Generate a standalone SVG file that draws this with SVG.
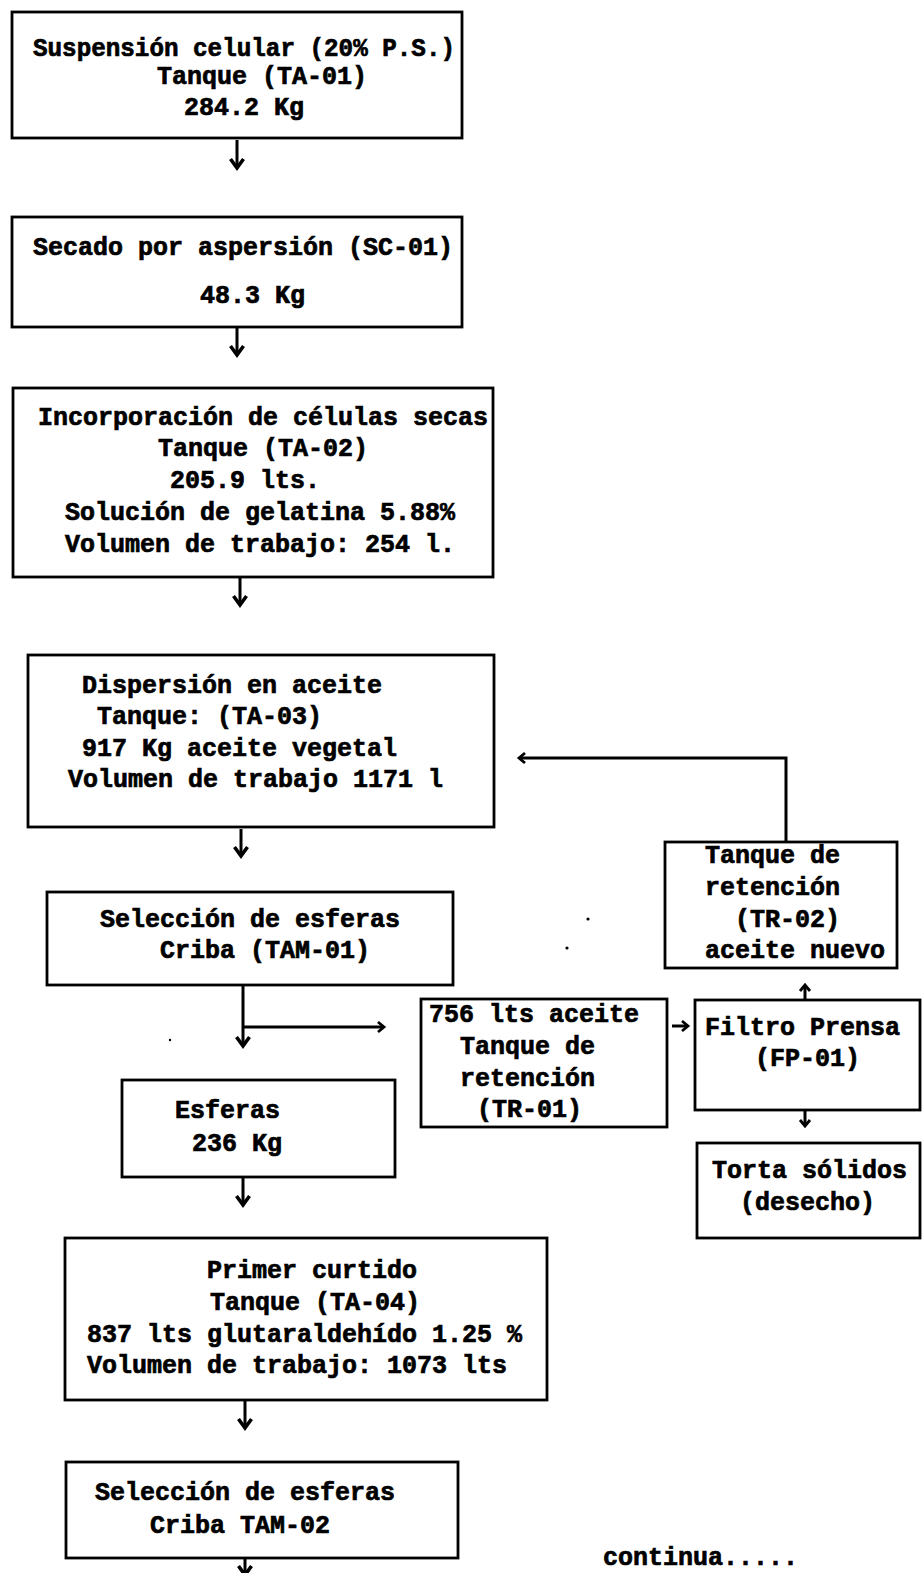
<svg xmlns="http://www.w3.org/2000/svg" width="923" height="1573" viewBox="0 0 923 1573">
  <style>
    .box { fill: #fff; stroke: #000; stroke-width: 2.8; }
    .lbl { font-family: "Liberation Mono", "DejaVu Sans Mono", monospace; font-weight: bold; font-size: 25px; fill: #000; stroke: #000; stroke-width: 0.7; white-space: pre; }
    .wire { fill: none; stroke: #000; stroke-width: 3; }
    .speck { fill: #000; }
  </style>
  <defs>
    <marker id="head" markerUnits="userSpaceOnUse" markerWidth="26" markerHeight="26" viewBox="-13 -13 26 26" refX="0" refY="0" orient="auto" overflow="visible">
      <path d="M-9,-6.5 L0,0 L-9,6.5" fill="none" stroke="#000" stroke-width="3.6" stroke-linejoin="miter"/>
    </marker>
    <marker id="headSmall" markerUnits="userSpaceOnUse" markerWidth="18" markerHeight="18" viewBox="-9 -9 18 18" refX="0" refY="0" orient="auto" overflow="visible">
      <path d="M-6,-5 L0,0 L-6,5" fill="none" stroke="#000" stroke-width="2.8"/>
    </marker>
  </defs>
  <rect width="923" height="1573" fill="#fff"/>

  <!-- process flow connectors -->
  <g id="connectors">
    <path class="wire" d="M237,140 V168" marker-end="url(#head)"/>
    <path class="wire" d="M237,328 V355" marker-end="url(#head)"/>
    <path class="wire" d="M240,578 V605" marker-end="url(#head)"/>
    <path class="wire" d="M241,829 V856" marker-end="url(#head)"/>
    <path class="wire" d="M243,986 V1046" marker-end="url(#head)"/>
    <path class="wire" d="M243,1027 H384" marker-end="url(#headSmall)"/>
    <path class="wire" d="M243,1178 V1205" marker-end="url(#head)"/>
    <path class="wire" d="M245,1401 V1428" marker-end="url(#head)"/>
    <path class="wire" d="M245,1559 V1575" marker-end="url(#head)"/>
    <path class="wire" d="M786,842 V758 H519" marker-end="url(#headSmall)"/>
    <path class="wire" d="M672,1026 H688" marker-end="url(#headSmall)"/>
    <path class="wire" d="M805,999 V985" marker-end="url(#headSmall)"/>
    <path class="wire" d="M805,1111 V1126" marker-end="url(#headSmall)"/>
  </g>

  <g id="suspension">
    <rect class="box" x="12" y="12" width="450" height="126"/>
    <text class="lbl" x="33" y="56" textLength="422" lengthAdjust="spacingAndGlyphs">Suspensión celular (20% P.S.)</text>
    <text class="lbl" x="157" y="84">Tanque (TA-01)</text>
    <text class="lbl" x="184" y="115">284.2 Kg</text>
  </g>

  <g id="secado">
    <rect class="box" x="12" y="217" width="450" height="110"/>
    <text class="lbl" x="33" y="255">Secado por aspersión (SC-01)</text>
    <text class="lbl" x="200" y="303">48.3 Kg</text>
  </g>

  <g id="incorporacion">
    <rect class="box" x="13" y="388" width="480" height="189"/>
    <text class="lbl" x="38" y="425">Incorporación de células secas</text>
    <text class="lbl" x="158" y="456">Tanque (TA-02)</text>
    <text class="lbl" x="170" y="488">205.9 lts.</text>
    <text class="lbl" x="65" y="520">Solución de gelatina 5.88%</text>
    <text class="lbl" x="65" y="552">Volumen de trabajo: 254 l.</text>
  </g>

  <g id="dispersion">
    <rect class="box" x="28" y="655" width="466" height="172"/>
    <text class="lbl" x="82" y="693">Dispersión en aceite</text>
    <text class="lbl" x="97" y="724">Tanque: (TA-03)</text>
    <text class="lbl" x="82" y="756">917 Kg aceite vegetal</text>
    <text class="lbl" x="68" y="787">Volumen de trabajo 1171 l</text>
  </g>

  <g id="seleccion1">
    <rect class="box" x="47" y="892" width="406" height="93"/>
    <text class="lbl" x="100" y="927">Selección de esferas</text>
    <text class="lbl" x="160" y="958">Criba (TAM-01)</text>
  </g>

  <g id="tr02">
    <rect class="box" x="665" y="842" width="232" height="126"/>
    <text class="lbl" x="705" y="863">Tanque de</text>
    <text class="lbl" x="705" y="895">retención</text>
    <text class="lbl" x="735" y="927">(TR-02)</text>
    <text class="lbl" x="705" y="958">aceite nuevo</text>
  </g>

  <g id="tr01">
    <rect class="box" x="421" y="999" width="246" height="128"/>
    <text class="lbl" x="429" y="1022">756 lts aceite</text>
    <text class="lbl" x="460" y="1054">Tanque de</text>
    <text class="lbl" x="460" y="1086">retención</text>
    <text class="lbl" x="477" y="1117">(TR-01)</text>
  </g>

  <g id="filtro">
    <rect class="box" x="695" y="1000" width="225" height="110"/>
    <text class="lbl" x="705" y="1035">Filtro Prensa</text>
    <text class="lbl" x="755" y="1066">(FP-01)</text>
  </g>

  <g id="torta">
    <rect class="box" x="697" y="1143" width="223" height="95"/>
    <text class="lbl" x="712" y="1178">Torta sólidos</text>
    <text class="lbl" x="740" y="1210">(desecho)</text>
  </g>

  <g id="esferas">
    <rect class="box" x="122" y="1080" width="273" height="97"/>
    <text class="lbl" x="175" y="1118">Esferas</text>
    <text class="lbl" x="192" y="1151">236 Kg</text>
  </g>

  <g id="curtido">
    <rect class="box" x="65" y="1238" width="482" height="162"/>
    <text class="lbl" x="207" y="1278">Primer curtido</text>
    <text class="lbl" x="210" y="1310">Tanque (TA-04)</text>
    <text class="lbl" x="87" y="1342">837 lts glutaraldehído 1.25 %</text>
    <text class="lbl" x="87" y="1373">Volumen de trabajo: 1073 lts</text>
  </g>

  <g id="seleccion2">
    <rect class="box" x="66" y="1462" width="392" height="96"/>
    <text class="lbl" x="95" y="1500">Selección de esferas</text>
    <text class="lbl" x="150" y="1533">Criba TAM-02</text>
  </g>

  <g id="nota">
    <text class="lbl" x="603" y="1565">continua.....</text>
  </g>

  <!-- small ink specks -->
  <circle class="speck" cx="588" cy="919" r="1.6"/>
  <circle class="speck" cx="567" cy="948" r="1.6"/>
  <circle class="speck" cx="170" cy="1040" r="1.2"/>
</svg>
